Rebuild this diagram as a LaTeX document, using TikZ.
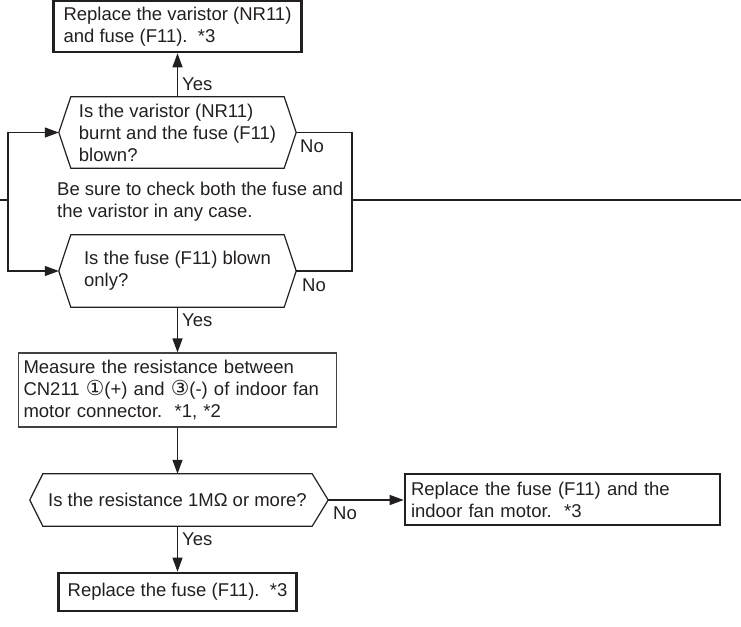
\documentclass[tikz,border=0pt]{standalone}
\usepackage{fontspec}
\setmainfont{Liberation Sans}
\newfontfamily\symfont{DejaVu Sans}[Scale=1.12]
\usetikzlibrary{arrows.meta,calc}
\definecolor{ink}{HTML}{231F20}
\begin{document}
\begin{tikzpicture}[x=1pt,y=-1pt,line join=miter,
  txt/.style={font=\fontsize{18.5}{22}\selectfont, text=ink},
  actbox/.style={txt, draw=ink, line width=2.6pt, inner sep=0pt, align=left},
  procbox/.style={txt, draw=ink!85, line width=1.2pt, inner sep=0pt, align=left},
  hexarea/.style={txt, inner sep=0pt, align=left},
  lab/.style={txt, anchor=west, inner sep=0pt},
  conn/.style={draw=ink, line width=1.2pt},
  arr/.style={conn, -{Triangle[length=14pt,width=10pt]}}]
\useasboundingbox (0,0) rectangle (741,626);

% action boxes
\node[actbox, minimum width=248pt, minimum height=51pt] (top) at (177.5,26.5)
  {Replace the varistor (NR11)\\and fuse (F11).\ \ *3};
\node[actbox, minimum width=315pt, minimum height=51pt, text width=303pt] (r2) at (562.5,499.5)
  {Replace the fuse (F11) and the\\indoor fan motor.\ \ *3};
\node[actbox, minimum width=238pt, minimum height=38pt] (r3) at (177.5,592)
  {Replace the fuse (F11).\ \ *3};

% process box
\node[procbox, minimum width=318pt, minimum height=74pt, text width=308pt] (m) at (177.5,390)
  {Measure the resistance between\\CN211 {\symfont ①}(+) and {\symfont ③}(-) of indoor fan\\motor connector.\ \ *1, *2};

% decisions
\node[hexarea, minimum width=213pt, minimum height=71pt] (d1) at (177.5,132.5)
  {Is the varistor (NR11)\\burnt and the fuse (F11)\\blown?};
\node[hexarea, minimum width=213pt, minimum height=72pt] (d2) at (177.5,271)
  {Is the fuse (F11) blown\\only?};
\node[hexarea, minimum width=269pt, minimum height=52pt] (d3) at (177.5,500)
  {Is the resistance 1M\symbol{"03A9} or more?};

\coordinate (d1l) at ([xshift=-12pt]d1.west);
\coordinate (d1r) at ([xshift=12pt]d1.east);
\coordinate (d2l) at ([xshift=-12pt]d2.west);
\coordinate (d2r) at ([xshift=12pt]d2.east);
\coordinate (d3l) at ([xshift=-13pt]d3.west);
\coordinate (d3r) at ([xshift=16pt]d3.east);

\draw[conn] (d1.north west) -- (d1.north east) -- (d1r) -- (d1.south east) -- (d1.south west) -- (d1l) -- cycle;
\draw[conn] (d2.north west) -- (d2.north east) -- (d2r) -- (d2.south east) -- (d2.south west) -- (d2l) -- cycle;
\draw[conn] (d3.north west) -- (d3.north east) -- (d3r) -- (d3.south east) -- (d3.south west) -- (d3l) -- cycle;

% note
\node[txt, anchor=west, align=left, inner sep=0pt] (note) at (57,202)
  {Be sure to check both the fuse and\\the varistor in any case.};

% labels
\node[lab] (y1) at (182,84) {Yes};
\node[lab] (n1) at (300,146) {No};
\node[lab] (n2) at (302,285) {No};
\node[lab] (y2) at (182,320) {Yes};
\node[lab] (n3) at (333,513) {No};
\node[lab] (y3) at (182,539) {Yes};

% loop coordinates
\coordinate (edgeL) at (0,200);
\coordinate (lj) at (8,200);
\coordinate (rj) at (352,200);
\coordinate (edgeR) at (741,200);

% connectors
\draw[arr] (d1.north) -- (top.south);
\draw[arr] (d2.south) -- (m.north);
\draw[arr] (m.south) -- (d3.north);
\draw[arr] (d3r) -- (d3r -| r2.west);
\draw[arr] (d3.south) -- (r3.north);
\draw[conn] (edgeL) -- (lj);
\draw[arr] (lj) |- (d1l);
\draw[arr] (lj) |- (d2l);
\draw[conn] (d1r) -| (rj) |- (d2r);
\draw[conn] (rj) -- (edgeR);
\end{tikzpicture}
\end{document}
